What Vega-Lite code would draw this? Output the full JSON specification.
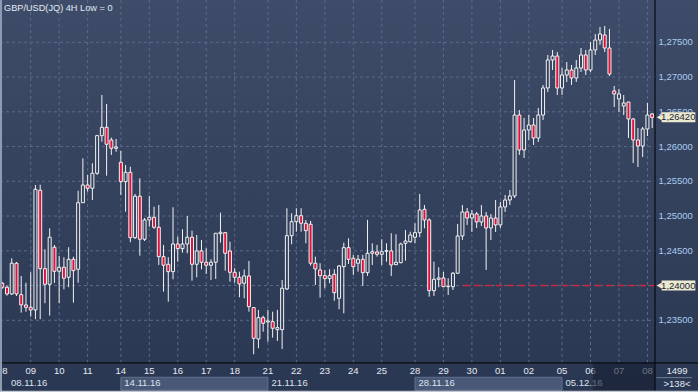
{
"$schema":"https://vega.github.io/schema/vega-lite/v6.json",
"width":698,"height":392,"padding":0,
"autosize":"none",
"background":"#34415d",
"config":{"view":{"stroke":null},"text":{"font":"Liberation Sans"},"scale":{"continuousPadding":0}},
"datasets":{
"candles":[
{"i":0,"o":1.24033,"h":1.24052,"l":1.23951,"c":1.23975},
{"i":1,"o":1.23975,"h":1.23998,"l":1.23854,"c":1.23879},
{"i":2,"o":1.23879,"h":1.24392,"l":1.23864,"c":1.24321},
{"i":3,"o":1.24321,"h":1.24339,"l":1.23850,"c":1.23879},
{"i":4,"o":1.23869,"h":1.24138,"l":1.23610,"c":1.23721},
{"i":5,"o":1.23721,"h":1.24041,"l":1.23624,"c":1.23687},
{"i":6,"o":1.23687,"h":1.24191,"l":1.23552,"c":1.23649},
{"i":7,"o":1.23649,"h":1.25447,"l":1.23515,"c":1.25385},
{"i":8,"o":1.25371,"h":1.25451,"l":1.23515,"c":1.24243},
{"i":9,"o":1.24243,"h":1.24522,"l":1.23745,"c":1.24018},
{"i":10,"o":1.24018,"h":1.24824,"l":1.23567,"c":1.24695},
{"i":11,"o":1.24551,"h":1.24584,"l":1.24037,"c":1.24205},
{"i":12,"o":1.24205,"h":1.24426,"l":1.23745,"c":1.24263},
{"i":13,"o":1.24263,"h":1.24407,"l":1.23946,"c":1.24105},
{"i":14,"o":1.24119,"h":1.24551,"l":1.23975,"c":1.24378},
{"i":15,"o":1.24378,"h":1.24415,"l":1.23754,"c":1.24214},
{"i":16,"o":1.24234,"h":1.25365,"l":1.24041,"c":1.25192},
{"i":17,"o":1.25192,"h":1.25831,"l":1.25188,"c":1.25447},
{"i":18,"o":1.25447,"h":1.25591,"l":1.25351,"c":1.25400},
{"i":19,"o":1.25400,"h":1.25759,"l":1.25231,"c":1.25616},
{"i":20,"o":1.25616,"h":1.26167,"l":1.25591,"c":1.26157},
{"i":21,"o":1.26157,"h":1.26742,"l":1.26070,"c":1.26277},
{"i":22,"o":1.26277,"h":1.26613,"l":1.25581,"c":1.26033},
{"i":23,"o":1.26095,"h":1.26128,"l":1.25879,"c":1.25975},
{"i":24,"o":1.25975,"h":1.26109,"l":1.25926,"c":1.25994},
{"i":25,"o":1.25774,"h":1.25936,"l":1.25303,"c":1.25495},
{"i":26,"o":1.25495,"h":1.25735,"l":1.25063,"c":1.25630},
{"i":27,"o":1.25630,"h":1.25710,"l":1.24623,"c":1.24689},
{"i":28,"o":1.24689,"h":1.25318,"l":1.24670,"c":1.25285},
{"i":29,"o":1.25285,"h":1.25544,"l":1.24430,"c":1.24666},
{"i":30,"o":1.24666,"h":1.24972,"l":1.24641,"c":1.24944},
{"i":31,"o":1.24944,"h":1.25289,"l":1.24847,"c":1.24982},
{"i":32,"o":1.24982,"h":1.25135,"l":1.24814,"c":1.24839},
{"i":33,"o":1.24839,"h":1.25159,"l":1.24296,"c":1.24416},
{"i":34,"o":1.24416,"h":1.24584,"l":1.23912,"c":1.24292},
{"i":35,"o":1.24306,"h":1.24407,"l":1.23768,"c":1.24200},
{"i":36,"o":1.24200,"h":1.25126,"l":1.24090,"c":1.24598},
{"i":37,"o":1.24598,"h":1.24703,"l":1.24344,"c":1.24531},
{"i":38,"o":1.24531,"h":1.24810,"l":1.24473,"c":1.24598},
{"i":39,"o":1.24598,"h":1.25001,"l":1.24464,"c":1.24695},
{"i":40,"o":1.24695,"h":1.24790,"l":1.24070,"c":1.24306},
{"i":41,"o":1.24306,"h":1.24728,"l":1.24119,"c":1.24498},
{"i":42,"o":1.24498,"h":1.24656,"l":1.24234,"c":1.24335},
{"i":43,"o":1.24335,"h":1.24536,"l":1.24167,"c":1.24292},
{"i":44,"o":1.24292,"h":1.24378,"l":1.24080,"c":1.24335},
{"i":45,"o":1.24335,"h":1.24757,"l":1.24095,"c":1.24752},
{"i":46,"o":1.24746,"h":1.25049,"l":1.24617,"c":1.24767},
{"i":47,"o":1.24761,"h":1.24771,"l":1.24214,"c":1.24464},
{"i":48,"o":1.24498,"h":1.24631,"l":1.24056,"c":1.24191},
{"i":49,"o":1.24191,"h":1.24249,"l":1.24041,"c":1.24119},
{"i":50,"o":1.24119,"h":1.24200,"l":1.23831,"c":1.24023},
{"i":51,"o":1.24033,"h":1.24231,"l":1.23817,"c":1.24138},
{"i":52,"o":1.24138,"h":1.24354,"l":1.23624,"c":1.23696},
{"i":53,"o":1.23682,"h":1.23682,"l":1.23011,"c":1.23241},
{"i":54,"o":1.23231,"h":1.23649,"l":1.23098,"c":1.23538},
{"i":55,"o":1.23538,"h":1.23567,"l":1.23336,"c":1.23457},
{"i":56,"o":1.23476,"h":1.23649,"l":1.23192,"c":1.23490},
{"i":57,"o":1.23480,"h":1.23624,"l":1.23250,"c":1.23385},
{"i":58,"o":1.23365,"h":1.23649,"l":1.23203,"c":1.23394},
{"i":59,"o":1.23365,"h":1.24080,"l":1.23087,"c":1.23961},
{"i":60,"o":1.23951,"h":1.25112,"l":1.23936,"c":1.24718},
{"i":61,"o":1.24718,"h":1.25040,"l":1.24594,"c":1.24919},
{"i":62,"o":1.24919,"h":1.25112,"l":1.24775,"c":1.25005},
{"i":63,"o":1.25005,"h":1.25112,"l":1.24775,"c":1.24896},
{"i":64,"o":1.24896,"h":1.24944,"l":1.24608,"c":1.24790},
{"i":65,"o":1.24882,"h":1.24929,"l":1.24286,"c":1.24321},
{"i":66,"o":1.24321,"h":1.24415,"l":1.24008,"c":1.24239},
{"i":67,"o":1.24224,"h":1.24321,"l":1.23826,"c":1.24142},
{"i":68,"o":1.24142,"h":1.24224,"l":1.23961,"c":1.24099},
{"i":69,"o":1.24099,"h":1.24234,"l":1.24033,"c":1.24142},
{"i":70,"o":1.24162,"h":1.24234,"l":1.23782,"c":1.23898},
{"i":71,"o":1.23817,"h":1.24296,"l":1.23659,"c":1.24282},
{"i":72,"o":1.24272,"h":1.24617,"l":1.23601,"c":1.24545},
{"i":73,"o":1.24545,"h":1.24680,"l":1.24310,"c":1.24378},
{"i":74,"o":1.24392,"h":1.24440,"l":1.24152,"c":1.24272},
{"i":75,"o":1.24321,"h":1.24440,"l":1.24200,"c":1.24378},
{"i":76,"o":1.24378,"h":1.24440,"l":1.23994,"c":1.24185},
{"i":77,"o":1.24185,"h":1.24944,"l":1.24138,"c":1.24464},
{"i":78,"o":1.24464,"h":1.24608,"l":1.24296,"c":1.24487},
{"i":79,"o":1.24483,"h":1.24584,"l":1.24416,"c":1.24450},
{"i":80,"o":1.24450,"h":1.24666,"l":1.24296,"c":1.24487},
{"i":81,"o":1.24493,"h":1.24608,"l":1.24344,"c":1.24502},
{"i":82,"o":1.24498,"h":1.24752,"l":1.24138,"c":1.24296},
{"i":83,"o":1.24300,"h":1.24738,"l":1.24296,"c":1.24335},
{"i":84,"o":1.24329,"h":1.24617,"l":1.24321,"c":1.24598},
{"i":85,"o":1.24608,"h":1.24800,"l":1.24358,"c":1.24641},
{"i":86,"o":1.24631,"h":1.24775,"l":1.24617,"c":1.24728},
{"i":87,"o":1.24695,"h":1.24896,"l":1.24608,"c":1.24761},
{"i":88,"o":1.24761,"h":1.25318,"l":1.24695,"c":1.25087},
{"i":89,"o":1.25097,"h":1.25159,"l":1.24824,"c":1.24944},
{"i":90,"o":1.24944,"h":1.24968,"l":1.23840,"c":1.23926},
{"i":91,"o":1.23926,"h":1.24344,"l":1.23850,"c":1.24090},
{"i":92,"o":1.24090,"h":1.24263,"l":1.23975,"c":1.24109},
{"i":93,"o":1.24109,"h":1.24195,"l":1.23975,"c":1.23984},
{"i":94,"o":1.23990,"h":1.24105,"l":1.23864,"c":1.23984},
{"i":95,"o":1.23984,"h":1.24195,"l":1.23936,"c":1.24177},
{"i":96,"o":1.24177,"h":1.24886,"l":1.24167,"c":1.24713},
{"i":97,"o":1.24713,"h":1.25159,"l":1.24656,"c":1.25059},
{"i":98,"o":1.25059,"h":1.25116,"l":1.24872,"c":1.24972},
{"i":99,"o":1.24972,"h":1.25087,"l":1.24771,"c":1.25030},
{"i":100,"o":1.25030,"h":1.25059,"l":1.24828,"c":1.24915},
{"i":101,"o":1.24915,"h":1.25159,"l":1.24857,"c":1.25001},
{"i":102,"o":1.25001,"h":1.25059,"l":1.24224,"c":1.24828},
{"i":103,"o":1.24828,"h":1.25030,"l":1.24656,"c":1.24972},
{"i":104,"o":1.24972,"h":1.25231,"l":1.24771,"c":1.24872},
{"i":105,"o":1.24872,"h":1.25203,"l":1.24828,"c":1.25131},
{"i":106,"o":1.25131,"h":1.25303,"l":1.25059,"c":1.25231},
{"i":107,"o":1.25231,"h":1.25375,"l":1.25159,"c":1.25289},
{"i":108,"o":1.25289,"h":1.26958,"l":1.25260,"c":1.26454},
{"i":109,"o":1.26454,"h":1.26526,"l":1.25879,"c":1.25951},
{"i":110,"o":1.25951,"h":1.26411,"l":1.25836,"c":1.26238},
{"i":111,"o":1.26238,"h":1.26454,"l":1.26095,"c":1.26310},
{"i":112,"o":1.26310,"h":1.26411,"l":1.26023,"c":1.26123},
{"i":113,"o":1.26123,"h":1.26555,"l":1.26066,"c":1.26454},
{"i":114,"o":1.26454,"h":1.26886,"l":1.26383,"c":1.26843},
{"i":115,"o":1.26843,"h":1.27318,"l":1.26785,"c":1.27246},
{"i":116,"o":1.27246,"h":1.27390,"l":1.27102,"c":1.27303},
{"i":117,"o":1.27303,"h":1.27361,"l":1.26742,"c":1.26843},
{"i":118,"o":1.26843,"h":1.27131,"l":1.26742,"c":1.27030},
{"i":119,"o":1.27030,"h":1.27217,"l":1.26929,"c":1.27102},
{"i":120,"o":1.27102,"h":1.27174,"l":1.26886,"c":1.26987},
{"i":121,"o":1.26987,"h":1.27246,"l":1.26929,"c":1.27131},
{"i":122,"o":1.27131,"h":1.27418,"l":1.27073,"c":1.27318},
{"i":123,"o":1.27318,"h":1.27390,"l":1.27030,"c":1.27102},
{"i":124,"o":1.27102,"h":1.27505,"l":1.27073,"c":1.27390},
{"i":125,"o":1.27390,"h":1.27620,"l":1.27318,"c":1.27533},
{"i":126,"o":1.27533,"h":1.27721,"l":1.27462,"c":1.27620},
{"i":127,"o":1.27605,"h":1.27735,"l":1.27361,"c":1.27418},
{"i":128,"o":1.27418,"h":1.27692,"l":1.27015,"c":1.27044},
{"i":129,"o":1.26800,"h":1.26872,"l":1.26569,"c":1.26757},
{"i":130,"o":1.26685,"h":1.26829,"l":1.26498,"c":1.26757},
{"i":131,"o":1.26584,"h":1.26742,"l":1.26454,"c":1.26627},
{"i":132,"o":1.26641,"h":1.26641,"l":1.26123,"c":1.26397},
{"i":133,"o":1.26397,"h":1.26411,"l":1.25764,"c":1.26095},
{"i":134,"o":1.26095,"h":1.26267,"l":1.25706,"c":1.26008},
{"i":135,"o":1.26008,"h":1.26282,"l":1.25850,"c":1.26253},
{"i":136,"o":1.26253,"h":1.26627,"l":1.26152,"c":1.26454},
{"i":137,"o":1.26469,"h":1.26483,"l":1.26267,"c":1.26420}
],
"levels":[{"p":1.235,"t":"1,23500"},{"p":1.24,"t":""},{"p":1.245,"t":"1,24500"},{"p":1.25,"t":"1,25000"},{"p":1.255,"t":"1,25500"},{"p":1.26,"t":"1,26000"},{"p":1.265,"t":"1,26500"},{"p":1.27,"t":"1,27000"},{"p":1.275,"t":"1,27500"}],
"days":[{"i":0,"d":"08"},{"i":6,"d":"09"},{"i":12,"d":"10"},{"i":18,"d":"11"},{"i":25,"d":"14"},{"i":31,"d":"15"},{"i":37,"d":"16"},{"i":43,"d":"17"},{"i":49,"d":"18"},{"i":56,"d":"21"},{"i":62,"d":"22"},{"i":68,"d":"23"},{"i":74,"d":"24"},{"i":80,"d":"25"},{"i":87,"d":"28"},{"i":93,"d":"29"},{"i":99,"d":"30"},{"i":105,"d":"01"},{"i":111,"d":"02"},{"i":118,"d":"05"},{"i":124,"d":"06"},{"i":130,"d":"07"},{"i":136,"d":"08"}]
},
"layer":[
{"data":{"values":[{}]},
 "mark":{"type":"rect","fill":{"gradient":"linear","x1":0,"y1":0,"x2":0,"y2":1,"stops":[{"offset":0,"color":"#3f4c69"},{"offset":1,"color":"#2a3752"}]}},
 "encoding":{"x":{"datum":-0.472,"type":"quantitative","scale":{"domain":[-0.472,146.66],"nice":false,"zero":false,"padding":0},"axis":null},"x2":{"datum":146.66},
  "y":{"datum":1.22468,"type":"quantitative","scale":{"domain":[1.22468,1.28109],"nice":false,"zero":false,"padding":0},"axis":null},"y2":{"datum":1.28109}}},
{"data":{"name":"levels"},
 "mark":{"type":"rule","color":"#5b6b8a","strokeWidth":1,"strokeDash":[3,3]},
 "encoding":{"x":{"datum":-0.472,"type":"quantitative","scale":{"domain":[-0.472,146.66],"nice":false,"zero":false,"padding":0},"axis":null},"x2":{"datum":137.6},
  "y":{"field":"p","type":"quantitative","scale":{"domain":[1.22468,1.28109],"nice":false,"zero":false,"padding":0},"axis":null}}},
{"data":{"name":"days"},"transform":[{"filter":"datum.i > 0"}],
 "mark":{"type":"rule","color":"#5b6b8a","strokeWidth":1,"strokeDash":[3,3]},
 "encoding":{"x":{"field":"i","type":"quantitative","scale":{"domain":[-0.472,146.66],"nice":false,"zero":false,"padding":0},"axis":null},
  "y":{"datum":1.22886,"type":"quantitative","scale":{"domain":[1.22468,1.28109],"nice":false,"zero":false,"padding":0},"axis":null},"y2":{"datum":1.28109}}},
{"data":{"values":[{}]},
 "mark":{"type":"rule","color":"#c8283e","strokeWidth":1.6,"strokeDash":[7,4]},
 "encoding":{"x":{"datum":97.1,"type":"quantitative","scale":{"domain":[-0.472,146.66],"nice":false,"zero":false,"padding":0},"axis":null},"x2":{"datum":137.6},
  "y":{"datum":1.24,"type":"quantitative","scale":{"domain":[1.22468,1.28109],"nice":false,"zero":false,"padding":0},"axis":null}}},
{"data":{"name":"candles"},
 "mark":{"type":"rule","color":"#f2f2f2","strokeWidth":1},
 "encoding":{"x":{"field":"i","type":"quantitative","scale":{"domain":[-0.472,146.66],"nice":false,"zero":false,"padding":0},"axis":null},
  "y":{"field":"l","type":"quantitative","scale":{"domain":[1.22468,1.28109],"nice":false,"zero":false,"padding":0},"axis":null},"y2":{"field":"h"}}},
{"data":{"name":"candles"},
 "mark":{"type":"bar","size":3,"stroke":"#f2f2f2","strokeWidth":1},
 "encoding":{"x":{"field":"i","type":"quantitative","scale":{"domain":[-0.472,146.66],"nice":false,"zero":false,"padding":0},"axis":null},
  "y":{"field":"o","type":"quantitative","scale":{"domain":[1.22468,1.28109],"nice":false,"zero":false,"padding":0},"axis":null},"y2":{"field":"c"},
  "fill":{"condition":{"test":"datum.c < datum.o","value":"#dc143c"},"value":"#35425e"}}},
{"data":{"values":[{"t":"GBP/USD(JQ) 4H Low = 0"}]},
 "mark":{"type":"text","align":"left","baseline":"middle","fontSize":9.2,"color":"#e2eaf4"},
 "encoding":{"x":{"datum":0.37,"type":"quantitative","scale":{"domain":[-0.472,146.66],"nice":false,"zero":false,"padding":0},"axis":null},
  "y":{"datum":1.27994,"type":"quantitative","scale":{"domain":[1.22468,1.28109],"nice":false,"zero":false,"padding":0},"axis":null},"text":{"field":"t"}}},
{"data":{"values":[{"a":25,"b":56},{"a":87,"b":118}]},
 "mark":{"type":"rect","fill":"#4a5877","stroke":"#62718f","strokeWidth":1},
 "encoding":{"x":{"field":"a","type":"quantitative","scale":{"domain":[-0.472,146.66],"nice":false,"zero":false,"padding":0},"axis":null},"x2":{"field":"b"},
  "y":{"datum":1.22493,"type":"quantitative","scale":{"domain":[1.22468,1.28109],"nice":false,"zero":false,"padding":0},"axis":null},"y2":{"datum":1.2268}}},
{"data":{"name":"days"},
 "mark":{"type":"text","align":"center","baseline":"middle","fontSize":9.5,"color":"#e4eaf2"},
 "encoding":{"x":{"field":"i","type":"quantitative","scale":{"domain":[-0.472,146.66],"nice":false,"zero":false,"padding":0},"axis":null},
  "y":{"datum":1.22771,"type":"quantitative","scale":{"domain":[1.22468,1.28109],"nice":false,"zero":false,"padding":0},"axis":null},"text":{"field":"d"}}},
{"data":{"values":[{"i":1.1,"t":"08.11.16"},{"i":25,"t":"14.11.16"},{"i":56,"t":"21.11.16"},{"i":87,"t":"28.11.16"},{"i":118,"t":"05.12.16"}]},
 "mark":{"type":"text","align":"left","baseline":"middle","fontSize":9.5,"dx":3.5,"color":"#dde4ee"},
 "encoding":{"x":{"field":"i","type":"quantitative","scale":{"domain":[-0.472,146.66],"nice":false,"zero":false,"padding":0},"axis":null},
  "y":{"datum":1.22603,"type":"quantitative","scale":{"domain":[1.22468,1.28109],"nice":false,"zero":false,"padding":0},"axis":null},"text":{"field":"t"}}},
{"data":{"values":[{}]},
 "mark":{"type":"rect","fill":"#151e30","opacity":0.6},
 "encoding":{"x":{"datum":124.5,"type":"quantitative","scale":{"domain":[-0.472,146.66],"nice":false,"zero":false,"padding":0},"axis":null},"x2":{"datum":137.6},
  "y":{"datum":1.2249,"type":"quantitative","scale":{"domain":[1.22468,1.28109],"nice":false,"zero":false,"padding":0},"axis":null},"y2":{"datum":1.22886}}},
{"data":{"values":[{}]},
 "mark":{"type":"rule","color":"#070b12","strokeWidth":1.2},
 "encoding":{"x":{"datum":-0.472,"type":"quantitative","scale":{"domain":[-0.472,146.66],"nice":false,"zero":false,"padding":0},"axis":null},"x2":{"datum":146.66},
  "y":{"datum":1.22886,"type":"quantitative","scale":{"domain":[1.22468,1.28109],"nice":false,"zero":false,"padding":0},"axis":null}}},
{"data":{"values":[{}]},
 "mark":{"type":"rule","color":"#070b12","strokeWidth":1.2},
 "encoding":{"x":{"datum":137.6,"type":"quantitative","scale":{"domain":[-0.472,146.66],"nice":false,"zero":false,"padding":0},"axis":null},
  "y":{"datum":1.22468,"type":"quantitative","scale":{"domain":[1.22468,1.28109],"nice":false,"zero":false,"padding":0},"axis":null},"y2":{"datum":1.28109}}},
{"data":{"name":"levels"},
 "mark":{"type":"text","align":"left","baseline":"middle","fontSize":9.5,"color":"#a9cdf0"},
 "encoding":{"x":{"datum":138.33,"type":"quantitative","scale":{"domain":[-0.472,146.66],"nice":false,"zero":false,"padding":0},"axis":null},
  "y":{"field":"p","type":"quantitative","scale":{"domain":[1.22468,1.28109],"nice":false,"zero":false,"padding":0},"axis":null},"text":{"field":"t"}}},
{"data":{"values":[{"p":1.2642,"t":"1,26420"},{"p":1.24,"t":"1,24000"}]},
 "layer":[
  {"mark":{"type":"bar","size":10,"color":"#ebe9cf"},
   "encoding":{"x":{"datum":139.0,"type":"quantitative","scale":{"domain":[-0.472,146.66],"nice":false,"zero":false,"padding":0},"axis":null},"x2":{"datum":146.1},
    "y":{"field":"p","type":"quantitative","scale":{"domain":[1.22468,1.28109],"nice":false,"zero":false,"padding":0},"axis":null}}},
  {"mark":{"type":"point","shape":"triangle-left","filled":true,"size":45,"color":"#ebe9cf","opacity":1},
   "encoding":{"x":{"datum":138.55,"type":"quantitative","scale":{"domain":[-0.472,146.66],"nice":false,"zero":false,"padding":0},"axis":null},
    "y":{"field":"p","type":"quantitative","scale":{"domain":[1.22468,1.28109],"nice":false,"zero":false,"padding":0},"axis":null}}},
  {"mark":{"type":"text","align":"center","baseline":"middle","fontSize":9.5,"color":"#1d2535"},
   "encoding":{"x":{"datum":142.5,"type":"quantitative","scale":{"domain":[-0.472,146.66],"nice":false,"zero":false,"padding":0},"axis":null},
    "y":{"field":"p","type":"quantitative","scale":{"domain":[1.22468,1.28109],"nice":false,"zero":false,"padding":0},"axis":null},"text":{"field":"t"}}}
 ]},
{"data":{"values":[{"t":"1499","p":1.22771},{"t":">138<","p":1.22588}]},
 "mark":{"type":"text","align":"center","baseline":"middle","fontSize":9.5,"color":"#e4eaf2"},
 "encoding":{"x":{"datum":142.23,"type":"quantitative","scale":{"domain":[-0.472,146.66],"nice":false,"zero":false,"padding":0},"axis":null},
  "y":{"field":"p","type":"quantitative","scale":{"domain":[1.22468,1.28109],"nice":false,"zero":false,"padding":0},"axis":null},"text":{"field":"t"}}},
{"data":{"values":[{}]},
 "mark":{"type":"rule","color":"#6f7d96","strokeWidth":1},
 "encoding":{"x":{"datum":137.9,"type":"quantitative","scale":{"domain":[-0.472,146.66],"nice":false,"zero":false,"padding":0},"axis":null},"x2":{"datum":145.4},
  "y":{"datum":1.22675,"type":"quantitative","scale":{"domain":[1.22468,1.28109],"nice":false,"zero":false,"padding":0},"axis":null}}},
{"data":{"values":[{}]},
 "mark":{"type":"rule","color":"#8d9bb3","strokeWidth":2},
 "encoding":{"x":{"datum":-0.26,"type":"quantitative","scale":{"domain":[-0.472,146.66],"nice":false,"zero":false,"padding":0},"axis":null},
  "y":{"datum":1.22468,"type":"quantitative","scale":{"domain":[1.22468,1.28109],"nice":false,"zero":false,"padding":0},"axis":null},"y2":{"datum":1.28109}}},
{"data":{"values":[{}]},
 "mark":{"type":"rule","color":"#c0c7d0","strokeWidth":1.5},
 "encoding":{"x":{"datum":-0.472,"type":"quantitative","scale":{"domain":[-0.472,146.66],"nice":false,"zero":false,"padding":0},"axis":null},"x2":{"datum":146.66},
  "y":{"datum":1.22476,"type":"quantitative","scale":{"domain":[1.22468,1.28109],"nice":false,"zero":false,"padding":0},"axis":null}}}
]
}
